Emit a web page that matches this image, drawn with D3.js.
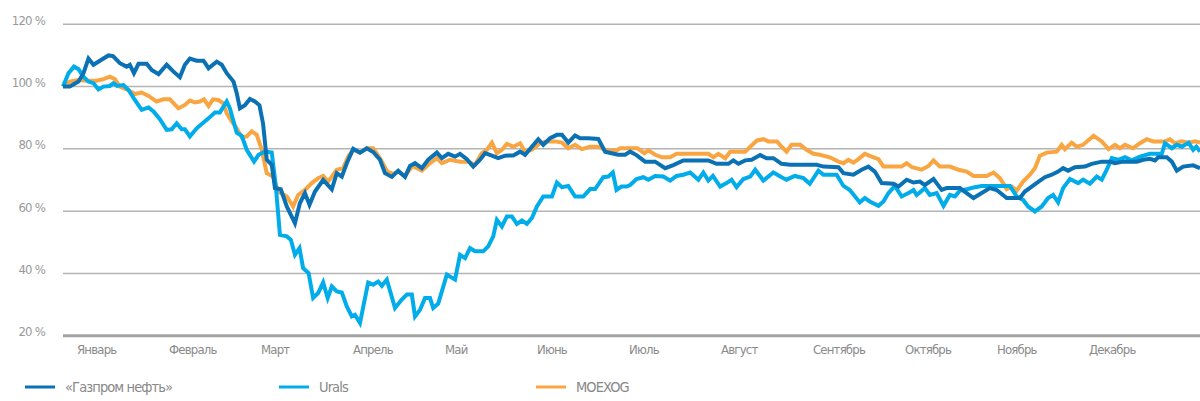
<!DOCTYPE html>
<html>
<head>
<meta charset="utf-8">
<script src="https://cdn.jsdelivr.net/npm/d3@7"></script>
<style>
  body { margin: 0; background: #fff; }
  svg text { font-family: 'Liberation Sans Narrow', 'DejaVu Sans Condensed', sans-serif; }
</style>
</head>
<body>
<div id="chart"></div>
<script>
// trading day (0..250) / value in % of the 1st January level
var months = ['Январь','Февраль','Март','Апрель','Май','Июнь','Июль','Август','Сентябрь','Октябрь','Ноябрь','Декабрь'];
var yTicks = [20, 40, 60, 80, 100, 120];

var gpnData = [[0,100],[1.5,100],[3.4,101.6],[4.5,104.3],[5.6,109],[6.7,107],[8.1,108.3],[10,110],[11,109.8],[12.5,107.5],[14,106.4],[14.7,107],[15.6,104.3],[16.6,107.3],[18.4,107.3],[19.5,105.3],[21,104],[22.8,107],[24.3,104.8],[25.7,103],[26.8,107],[27.9,109],[29.4,108.3],[30.9,108.3],[32,105.9],[33.8,108],[34.9,107],[36,104.3],[37.5,101.6],[38.2,97.9],[38.9,93],[40,94],[41.1,96],[42.2,95.2],[43.2,94],[44,88],[44.8,76.5],[45.9,74.9],[46.6,67.4],[47.9,67],[49.2,61.5],[51,56.1],[52.1,62.6],[53.2,65.8],[54.2,62],[55.4,66.3],[57.2,70],[59.1,67],[60.2,72.2],[61.3,71.1],[62.4,75.4],[63.8,80],[65.3,78.8],[66.8,80.2],[68.2,79],[69.7,76.5],[70.8,72.2],[72.3,71],[73.7,73],[75.2,71],[76.3,74.5],[77.4,75.4],[78.9,73.8],[80.3,76.5],[82.2,78.8],[83.3,77],[84.7,78.4],[86.2,77.5],[87.3,78.4],[88.8,76.7],[90.2,74.3],[91.7,76.5],[92.8,78.6],[94.3,77.8],[95.7,77],[97.2,77.8],[99,77.9],[100.5,79.1],[101.6,78.1],[103.1,80.7],[104.5,83.1],[105.6,81.3],[107.1,83.4],[108.6,84.5],[109.7,84.5],[111.1,82],[112.6,84.3],[113.7,83.4],[115.5,83.4],[117.7,83.2],[119.2,79.1],[120.6,78.6],[122.1,78.1],[123.6,78.1],[124.7,79.1],[126.1,78],[128,75.9],[130.2,75.9],[132.4,73.8],[134.2,74.8],[136.4,76.3],[141.9,76.3],[143.7,75.2],[146.3,75.2],[147.4,76.3],[148.5,75.2],[150,76.3],[151.4,76.5],[153.3,78],[154.7,77],[156.2,77],[158,75.2],[159.9,74.9],[165.7,74.9],[167.2,74.3],[170.5,74.1],[171.6,72.2],[173.8,71.7],[175.6,73.3],[177.1,74.3],[178.5,72.7],[180,69],[182.6,68.8],[183.7,67.9],[185.5,70.1],[187,69.2],[188.4,69.5],[189.5,68.4],[191.4,70.3],[193.2,66.8],[194.3,67.4],[197.2,67.4],[198.7,65.8],[200.2,64.2],[202,65.8],[203.8,67.4],[205.3,66.8],[207.5,64.2],[210.4,64.2],[211.5,66.3],[213,67.9],[214.5,69.5],[215.9,70.9],[217.4,71.7],[218.8,72.7],[219.9,73.8],[221,73],[222.5,74.1],[224.7,74.3],[226.2,75.2],[228.4,75.9],[230.2,75.9],[231.3,75.4],[233.1,75.9],[236.1,75.9],[237.5,76.5],[239,76.8],[240.1,76.3],[240.8,77.3],[242.7,77.3],[243.8,75.9],[244.9,73],[246.3,74.3],[248.5,74.7],[250,73.8]];

var uralsData = [[0,100],[1.2,104.3],[2.4,106.4],[3.4,105.6],[4.5,103.2],[5.6,101.6],[6.7,101.1],[7.8,99.1],[8.9,100],[10.3,100.2],[11.1,101.1],[11.9,100.2],[13.3,100.5],[14.4,98.9],[15.8,95.7],[17.3,92.5],[18.8,93.3],[19.9,92],[21.3,89.5],[22.8,86.1],[23.9,86.3],[25,88.2],[26.1,86.3],[26.8,86.3],[27.9,84],[29.4,86.6],[30.5,88],[32,89.8],[33.4,91.7],[34.5,91.7],[36,95.2],[36.7,93],[37.5,88.8],[38.2,85.2],[39.3,84.2],[40.4,79.7],[42,75.9],[43,78.1],[44.4,79.1],[45.9,78.8],[46.8,67.9],[47.7,52.4],[49.2,51.9],[50.1,50.8],[51,46],[52,48.1],[52.8,41.7],[54,40.1],[55,32.1],[56.1,33.7],[57.2,37.1],[58.2,32.1],[59.1,35.8],[60.2,34.2],[61.3,33.9],[62.4,29.4],[63.5,26.2],[64.2,26.7],[65.3,24.1],[67.1,37.1],[68.2,36.4],[69.3,37.4],[70.1,36],[71.2,38],[73,28.9],[74.5,31.6],[75.6,33.2],[76.7,33.2],[77.4,26.2],[78.5,28.3],[79.6,32.1],[80.7,32.1],[81.4,28.9],[82.5,30.3],[84.4,39.6],[86.2,38],[87.3,46],[88.4,44.9],[89.5,48.1],[90.6,47.1],[92.4,47.1],[93.5,48.7],[94.6,51.9],[95.4,57.2],[96.5,55.1],[97.6,58.3],[98.7,58.3],[99.8,55.9],[100.9,57],[102,55.9],[103.1,57.8],[104.2,61.5],[105.6,64.7],[107.5,64.7],[108.6,69.2],[109.7,67.7],[111.1,68.1],[112.6,64.7],[114.4,64.7],[115.9,67.1],[117,67.1],[118.8,70.9],[119.9,71.1],[120.9,72.4],[121.7,66.8],[122.8,67.9],[123.9,67.9],[124.7,68.4],[126.1,70.3],[127.6,70.9],[128.7,70.1],[130.2,71.3],[132,71.1],[133.5,69.8],[134.9,71.3],[136.4,71.7],[137.9,72.4],[139.7,70.1],[140.8,72.4],[141.9,69.8],[142.9,71.3],[144.5,67.9],[145.9,69],[147,70.1],[148.1,67.7],[149.6,70.3],[151.1,71.1],[152.2,73.3],[154,69.8],[156.2,72.4],[158,70.9],[159.1,70.1],[160.9,71.3],[162.8,70.6],[164.2,68.8],[166.1,73],[167.2,71.7],[170.1,71.7],[171.6,68.1],[173,66.8],[175.2,62.8],[176.3,64.2],[177.4,63.1],[179.3,61.7],[180.4,63.1],[181.5,65.8],[182.9,68.1],[184.4,64.7],[185.9,65.8],[187,66.8],[187.7,65.2],[189.5,67.4],[190.6,65.2],[192.1,65.8],[193.6,61.7],[195,65.2],[196.1,64.7],[197.2,66.6],[199,67.1],[200.5,67.7],[202,68.1],[208.2,68.1],[209.7,64.7],[211.1,63.6],[212.2,61.5],[213.7,59.9],[215.2,61.5],[216.6,64.2],[217.7,65.2],[218.8,62.8],[219.9,67.4],[221.4,70.3],[223.2,69],[224.3,70.1],[225.8,68.8],[227.3,71.1],[228.4,70.1],[229.5,73.3],[230.6,77],[232,76.5],[233.5,77.3],[235,76.3],[236.8,77.5],[239,78.4],[241.6,78.4],[242.3,81.8],[243.8,80.2],[244.9,81.3],[246,80.7],[247.5,82],[248.5,79.7],[249.2,80.7],[250,79.1]];

var moexData = [[0,100],[1.5,101.6],[3.4,102.1],[5.2,101.9],[7.4,101.9],[8.9,102.4],[10.3,103.2],[11.4,102.4],[12.5,100],[14,99.1],[15.8,97.6],[17.3,98.1],[18.8,97],[20.6,95.2],[22.1,95.9],[23.5,95.9],[25.4,93],[26.8,94.1],[27.9,95.5],[29,94.9],[30.1,95.2],[31,95.9],[32,93.8],[33,95.9],[34.1,95.7],[35.2,94.7],[36,91.4],[37.1,88.8],[38.2,86.6],[39.3,83.7],[40.4,84],[41.5,85.6],[42.6,84.5],[43.7,79.7],[44.8,72.2],[46.2,71.1],[47.3,66.3],[49.2,64.7],[50.6,61.5],[51.7,65.2],[53.2,66.8],[54.7,69],[56.1,70.6],[57.2,71.3],[58.3,69.5],[60.2,73.3],[61.6,73.8],[62.7,77.5],[63.8,79.7],[65.3,78.8],[66.8,80.2],[68.2,80.2],[69.7,77],[71.3,72.7],[72.7,72],[73.7,72.7],[75.2,71.3],[76.8,74.5],[78.9,73],[80.7,75.4],[82.2,77],[83.3,75.4],[85.1,76.5],[87.3,75.9],[89.1,75.9],[90.6,74.9],[92.1,78.6],[93.2,79.7],[94.3,82],[95.4,78.6],[96.5,79.7],[97.6,81.6],[99,80.7],[100.5,81.8],[101.6,79.1],[103.1,79.7],[104.9,81.8],[106.3,82.4],[108.2,82.4],[109.7,82],[111.1,80.2],[112.6,81.3],[114.1,79.9],[115.9,80.7],[117.7,80.7],[119.5,79.5],[121.7,79.5],[122.5,80.2],[126.3,80.2],[127.8,78.6],[128.7,79.5],[130.2,78.1],[131.7,77.3],[133.5,77.3],[134.9,78.4],[141.9,78.4],[143,77.3],[144.1,78.4],[145.6,77],[146.7,79.1],[150,79.1],[151.1,80.7],[152.6,82.7],[154,83.1],[155.1,82.4],[157,82.4],[158,80.7],[159.1,79.1],[160.2,81.3],[162.1,81.3],[163.5,79.7],[165,78.4],[166.4,78.1],[168.6,77.3],[170.5,75.9],[171.6,75.4],[172.7,76.5],[173.8,75.6],[174.9,76.7],[176.3,78.4],[177.8,77.5],[179.3,76.7],[180.4,74.3],[184.4,74.3],[185.5,75.4],[186.7,74.1],[188.8,73.3],[190.3,74.5],[191.4,76.3],[192.8,74.3],[195,74.3],[196.9,73.3],[198.7,72.7],[200.2,71.3],[203.1,71.3],[204.6,72.4],[206,70.6],[207.5,67.1],[208.6,67.9],[209.7,66.6],[211.1,69.5],[212.6,71.7],[213.7,73.8],[214.8,77.8],[216.3,78.8],[218.5,79.1],[219.6,81.3],[220.3,79.9],[221.8,82],[222.9,80.7],[224.3,81.3],[226.6,84.2],[228.4,82.4],[229.9,79.9],[231.3,81.3],[232.4,80.2],[233.5,81.3],[235.3,80.2],[236.8,81.8],[238.3,83.1],[239.7,82.4],[242.3,82.4],[243.4,83.1],[244.5,81.8],[246,82.4],[247.5,82],[248.9,82.4],[250,82]];

var series = [
    {name: 'MOEXOG', data: moexData, color: '#f9a541', legendX: 536},
    {name: 'Urals', data: uralsData, color: '#00adea', legendX: 279},
    {name: '«Газпром нефть»', data: gpnData, color: '#0a71b4', legendX: 25}
];

var width = 1200, height = 401;
var plotLeft = 63, plotRight = 1200, plotTop = 24.3, plotBottom = 335.7;

var svg = d3.select('#chart').append('svg')
    .attr('width', width)
    .attr('height', height);

var x = d3.scaleLinear().domain([0, 250]).range([plotLeft, plotRight]);
var y = d3.scaleLinear().domain([20, 120]).range([plotBottom, plotTop]);
var xMonth = d3.scaleBand().domain(months).range([plotLeft, plotLeft + 92 * 12]);

// grid
svg.append('g').selectAll('line')
    .data(yTicks.filter(function(d){ return d > 20; }))
    .enter().append('line')
    .attr('x1', plotLeft).attr('x2', plotRight)
    .attr('y1', function(d){ return y(d); })
    .attr('y2', function(d){ return y(d); })
    .attr('stroke', '#b4b4b4')
    .attr('stroke-width', 1.5);

svg.append('line')
    .attr('x1', plotLeft).attr('x2', plotRight)
    .attr('y1', y(20)).attr('y2', y(20))
    .attr('stroke', '#a3a3a3')
    .attr('stroke-width', 3);

svg.append('g').selectAll('text')
    .data(yTicks)
    .enter().append('text')
    .attr('x', 45)
    .attr('y', function(d){ return y(d) + 0.5; })
    .attr('text-anchor', 'end')
    .attr('font-size', 13)
    .attr('letter-spacing', -0.8)
    .attr('fill', '#999')
    .text(function(d){ return d + ' %'; });

svg.append('g').selectAll('text')
    .data(months)
    .enter().append('text')
    .attr('x', function(d){ return xMonth(d) + 14; })
    .attr('y', 354)
    .attr('font-size', 13)
    .attr('letter-spacing', -0.8)
    .attr('fill', '#8a8a8a')
    .text(function(d){ return d; });

var line = d3.line()
    .x(function(d){ return x(d[0]); })
    .y(function(d){ return y(d[1]); });

svg.append('g').selectAll('path')
    .data(series)
    .enter().append('path')
    .attr('d', function(d){ return line(d.data); })
    .attr('fill', 'none')
    .attr('stroke', function(d){ return d.color; })
    .attr('stroke-width', 4)
    .attr('stroke-linejoin', 'miter');

// legend
var legend = svg.append('g').selectAll('g')
    .data(series)
    .enter().append('g');
legend.append('line')
    .attr('x1', function(d){ return d.legendX; })
    .attr('x2', function(d){ return d.legendX + 30; })
    .attr('y1', 387).attr('y2', 387)
    .attr('stroke', function(d){ return d.color; })
    .attr('stroke-width', 3);
legend.append('text')
    .attr('x', function(d){ return d.legendX + 40; })
    .attr('y', 392)
    .attr('font-size', 14.5)
    .attr('letter-spacing', -0.9)
    .attr('fill', '#888')
    .text(function(d){ return d.name; });
</script>
</body>
</html>
